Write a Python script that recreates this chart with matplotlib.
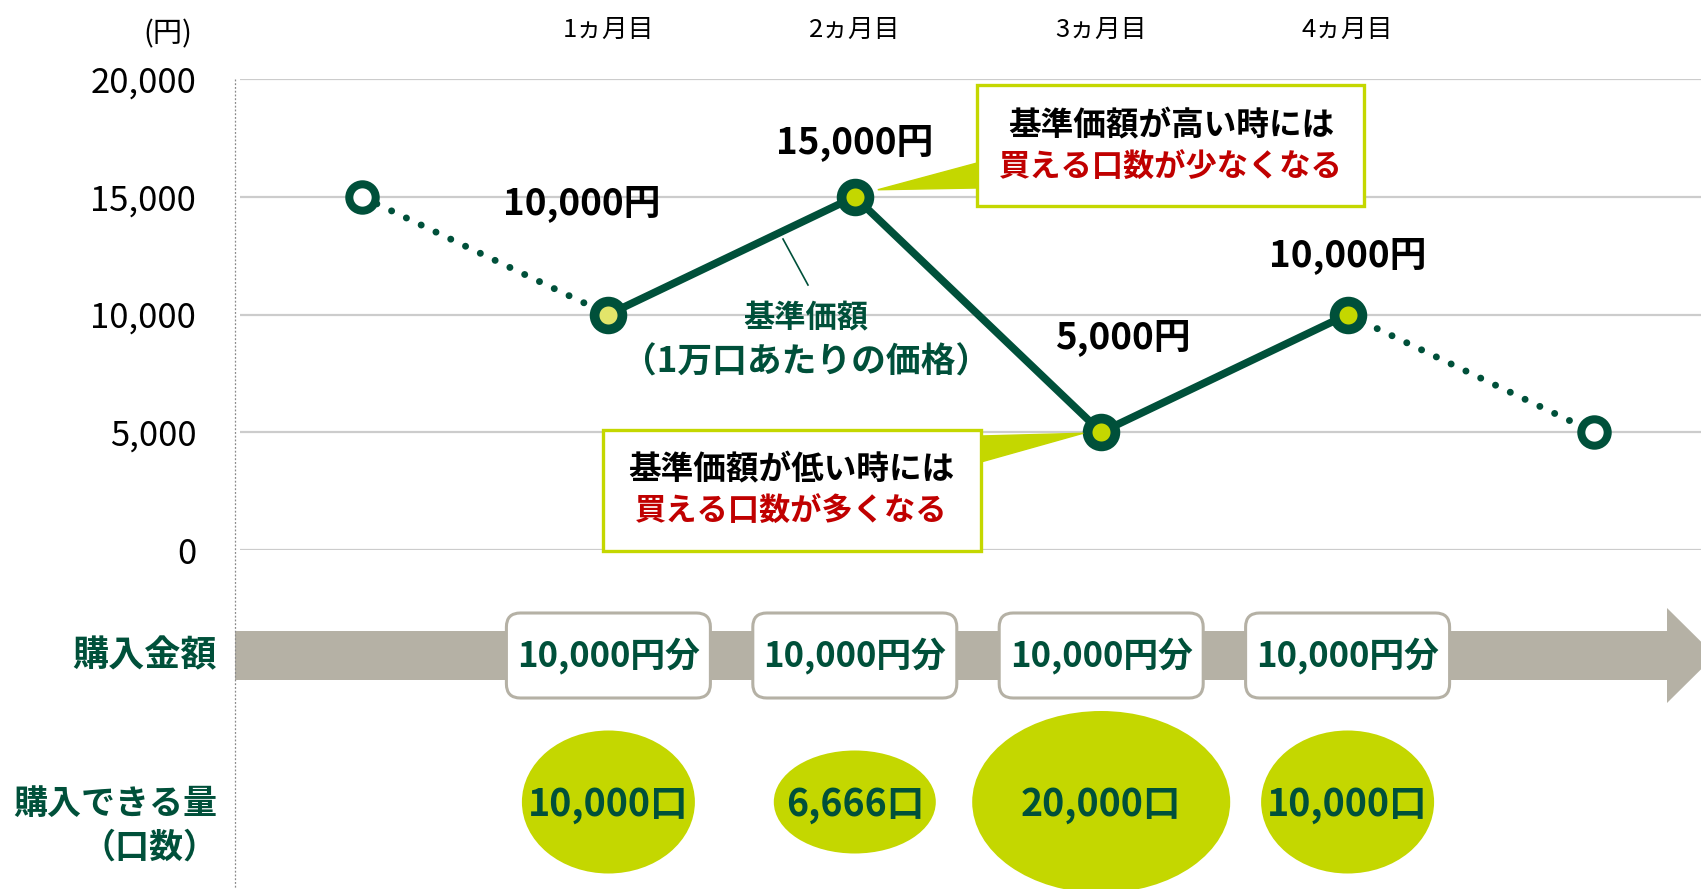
import matplotlib
matplotlib.use("Agg")
import matplotlib.pyplot as plt
from matplotlib.patches import Ellipse, FancyBboxPatch, Polygon, Rectangle

plt.rcParams['font.family'] = ['Noto Sans CJK JP', 'DejaVu Sans']

# ---- data ----
months = ["1ヵ月目", "2ヵ月目", "3ヵ月目", "4ヵ月目"]
price_before = 15000          # point before month 1 (dotted)
prices = [10000, 15000, 5000, 10000]
price_after = 5000            # point after month 4 (dotted)
amounts = [10000, 10000, 10000, 10000]
units = [10000, 6666, 20000, 10000]
yticks = [0, 5000, 10000, 15000, 20000]

# ---- style ----
GREEN = "#00503a"
LIME = "#c4d700"
LIGHT = "#e2e56a"
RED = "#c00000"
GRAY = "#b5b1a5"
GRID = "#cccccc"

W, H = 1701, 889
fig = plt.figure(figsize=(W / 100, H / 100), dpi=100)

# chart area, in pixels from top-left
ax_left, ax_top, ax_bottom = 240, 79, 550
x0_px, step = 362, 246.4

ax = fig.add_axes([ax_left / W, 1 - ax_bottom / H, 1 - ax_left / W, (ax_bottom - ax_top) / H])
ax.set_xlim((ax_left - x0_px) / step, (W - x0_px) / step)
ax.set_ylim(0, 20000)
for s in ax.spines.values():
    s.set_visible(False)
ax.set_xticks([])
ax.set_yticks(yticks)
ax.set_yticklabels([f"{v:,}" for v in yticks])
ax.tick_params(axis='y', length=0, pad=31.5, labelsize=25)
ax.grid(axis='y', color=GRID, lw=1.6)
ax.set_axisbelow(True)

xs = list(range(len(prices) + 2))
all_prices = [price_before] + prices + [price_after]

dots = dict(color=GREEN, lw=5.0, ls=(0, (0.01, 2.35)), dash_capstyle='round', zorder=2)
ax.plot(xs[:2], all_prices[:2], **dots)
ax.plot(xs[-2:], all_prices[-2:], **dots)
ax.plot(xs[1:-1], prices, color=GREEN, lw=5.5, solid_joinstyle='round', zorder=3)

fills = [LIGHT, LIME, LIME, LIME]
for x, p, c in zip(xs[1:-1], prices, fills):
    ax.plot(x, p, 'o', ms=20, mfc=c, mec=GREEN, mew=7, zorder=4)
ax.plot([xs[0], xs[-1]], [price_before, price_after], 'o', ms=19, mfc='white',
        mec=GREEN, mew=5.8, zorder=4)

label_off = [(-27, 111), (0, 54), (22, 95), (0, 59)]
for x, p, off in zip(xs[1:-1], prices, label_off):
    ax.annotate(f"{p:,}円", (x, p), xytext=off, textcoords='offset pixels',
                ha='center', va='center', fontsize=26.5, fontweight='bold', color='black')


def to_px(x, y):
    dx, dy = ax.transData.transform((x, y))
    return dx, H - dy


pts = [to_px(x, p) for x, p in zip(xs, all_prices)]
month_px = [pts[i][0] for i in range(1, len(prices) + 1)]

# ---- overlay in pixel coordinates ----
ov = fig.add_axes([0, 0, 1, 1], zorder=5)
ov.set_xlim(0, W)
ov.set_ylim(H, 0)
ov.axis('off')

ov.plot([235, 235], [ax_top, H], color='#8a8a8a', lw=0.9, ls=(0, (1.5, 1.5)))
ov.text(168, 34, "(円)", fontsize=21, ha='center', va='center')
for mx, m in zip(month_px, months):
    ov.text(mx, 30, m, fontsize=18.5, ha='center', va='center')

# callout: high price
hx, hy = pts[2]
ov.add_patch(Polygon([(hx + 23, hy - 7), (977, 163), (977, 188)], color=LIME, zorder=2))
ov.add_patch(Rectangle((977, 85), 387, 121, fc='white', ec=LIME, lw=2.4, zorder=3))
ov.text(1171, 126, "基準価額が高い時には", fontsize=23.5, fontweight='bold', ha='center',
        va='center', zorder=4)
ov.text(1171, 168, "買える口数が少なくなる", fontsize=22.5, fontweight='bold', color=RED,
        ha='center', va='center', zorder=4)

# callout: low price
lx, ly = pts[3]
ov.add_patch(Polygon([(lx - 18, ly + 1), (981, 436), (981, 462)], color=LIME, zorder=2))
ov.add_patch(Rectangle((603, 430), 378, 121, fc='white', ec=LIME, lw=2.4, zorder=3))
ov.text(791, 470, "基準価額が低い時には", fontsize=23.5, fontweight='bold', ha='center',
        va='center', zorder=4)
ov.text(791, 512, "買える口数が多くなる", fontsize=22.5, fontweight='bold', color=RED,
        ha='center', va='center', zorder=4)

# series label
ov.plot([783, 808], [239, 285], color=GREEN, lw=1.2)
ov.text(806, 318, "基準価額", fontsize=22.5, fontweight='bold', color=GREEN, ha='center', va='center')
ov.text(806, 362, "（1万口あたりの価格）", fontsize=25, fontweight='bold', color=GREEN,
        ha='center', va='center')

# purchase amount arrow
ov.add_patch(Rectangle((235, 631), 1667 - 235, 49, color=GRAY, lw=0))
ov.add_patch(Polygon([(1667, 608), (1715, 655.5), (1667, 703)], color=GRAY, lw=0))
ov.text(217, 656, "購入金額", fontsize=26, fontweight='bold', color=GREEN, ha='right', va='center')
for mx, a in zip(month_px, amounts):
    ov.add_patch(FancyBboxPatch((mx - 102, 613), 204, 85, boxstyle="round,pad=0,rounding_size=14",
                                fc='white', ec=GRAY, lw=2.2, zorder=3))
    ov.text(mx, 656, f"{a:,}円分", fontsize=25, fontweight='bold', color=GREEN,
            ha='center', va='center', zorder=4)

# units bubbles
bubble_size = [(173, 143), (162, 103), (258, 182), (173, 143)]
ov.text(217, 803, "購入できる量", fontsize=24.5, fontweight='bold', color=GREEN, ha='right', va='center')
ov.text(217, 847, "（口数）", fontsize=24.5, fontweight='bold', color=GREEN, ha='right', va='center')
for mx, u, (bw, bh) in zip(month_px, units, bubble_size):
    ov.add_patch(Ellipse((mx, 802), bw, bh, color=LIME, lw=0))
    ov.text(mx, 804, f"{u:,}口", fontsize=27, fontweight='bold', color=GREEN,
            ha='center', va='center')

fig.savefig("out.png", dpi=100)
